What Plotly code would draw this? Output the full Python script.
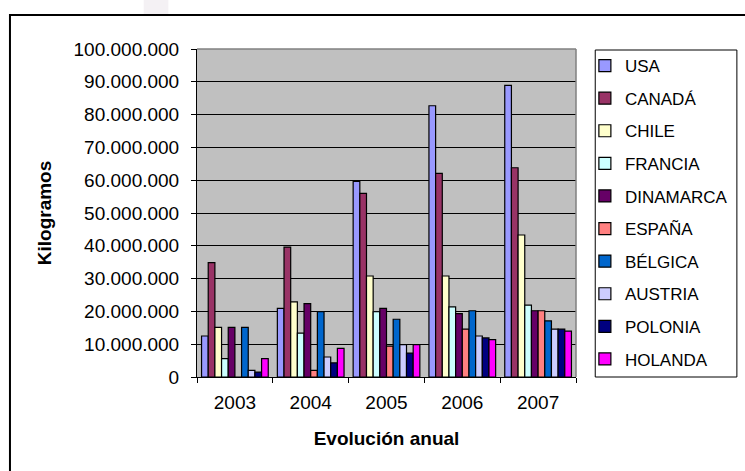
import plotly.graph_objects as go

# Years on the category axis
years = ["2003", "2004", "2005", "2006", "2007"]

# Annual kilograms per destination country
usa       = [12_500_000, 20_900_000, 59_600_000, 82_700_000, 88_900_000]
canada    = [34_900_000, 39_600_000, 56_000_000, 62_100_000, 63_800_000]
chile     = [15_100_000, 22_900_000, 30_800_000, 30_800_000, 43_300_000]
francia   = [5_600_000, 13_400_000, 19_900_000, 21_400_000, 21_900_000]
dinamarca = [15_100_000, 22_400_000, 20_900_000, 19_300_000, 20_200_000]
espana    = [0, 2_000_000, 9_400_000, 14_600_000, 20_200_000]
belgica   = [15_100_000, 19_900_000, 17_600_000, 20_200_000, 17_100_000]
austria   = [2_000_000, 6_100_000, 9_900_000, 12_500_000, 14_600_000]
polonia   = [1_500_000, 4_300_000, 7_300_000, 11_900_000, 14_600_000]
holanda   = [5_600_000, 8_700_000, 9_900_000, 11_400_000, 14_000_000]

country_names = ["USA", "CANADÁ", "CHILE", "FRANCIA", "DINAMARCA",
                 "ESPAÑA", "BÉLGICA", "AUSTRIA", "POLONIA", "HOLANDA"]
country_values = [usa, canada, chile, francia, dinamarca,
                  espana, belgica, austria, polonia, holanda]
country_colors = ["#9999FF", "#993366", "#FFFFCC", "#CCFFFF", "#660066",
                  "#FF8080", "#0066CC", "#CCCCFF", "#000080", "#FF00FF"]

y_ticks = list(range(0, 100_000_001, 10_000_000))

# Page geometry (pixels)
W, H = 745, 471
PL, PR, PT, PB = 197, 581, 49, 377  # plot area edges


def px_x(x):
    return (x - PL) / (PR - PL)


def px_y(y):
    return (PB - y) / (PB - PT)


FONT = "Arial, Liberation Sans, sans-serif"

fig = go.Figure()
for name, vals, col in zip(country_names, country_values, country_colors):
    fig.add_trace(go.Bar(
        name=name, x=years, y=vals, legendgroup=name,
        marker=dict(color=col, line=dict(color="black", width=1.2)),
    ))

shapes = [
    # outer chart frame
    dict(type="rect", xref="paper", yref="paper",
         x0=px_x(7.5), x1=px_x(760), y0=px_y(490), y1=px_y(15),
         line=dict(color="black", width=2), layer="above"),
    # faint block above the frame
    dict(type="rect", xref="paper", yref="paper",
         x0=px_x(143), x1=px_x(168), y0=px_y(14), y1=px_y(0),
         fillcolor="#F4F1F4", line=dict(width=0), layer="above"),
    # legend box
    dict(type="rect", xref="paper", yref="paper",
         x0=px_x(600.5), x1=px_x(744), y0=px_y(377), y1=px_y(50),
         line=dict(color="black", width=1), layer="above"),
    # grey top and right edge of the plot area
    dict(type="line", xref="paper", yref="paper", x0=0, x1=1, y0=1, y1=1,
         line=dict(color="#808080", width=1.5), layer="above"),
    dict(type="line", xref="paper", yref="paper", x0=1, x1=1, y0=0, y1=1,
         line=dict(color="#808080", width=1.5), layer="above"),
]

fig.update_layout(
    width=W, height=H,
    margin=dict(l=PL, r=W - PR, t=PT, b=H - PB, pad=0),
    paper_bgcolor="white",
    plot_bgcolor="#C0C0C0",
    barmode="group",
    bargap=0.12,
    bargroupgap=0,
    separators=",.",
    font=dict(family=FONT, color="black", size=19),
    showlegend=True,
    legend=dict(
        x=px_x(590), y=px_y(48), xanchor="left", yanchor="top",
        bgcolor="rgba(0,0,0,0)", borderwidth=0,
        font=dict(family=FONT, size=17, color="black"),
        tracegroupgap=7.5, traceorder="grouped",
        maxheight=440,
    ),
    shapes=shapes,
    xaxis=dict(
        type="category",
        showline=True, linecolor="black", linewidth=1,
        ticks="outside", tickson="boundaries", ticklen=5,
        tickcolor="black", ticklabelstandoff=8,
        showgrid=False,
        tickfont=dict(size=19),
        title=dict(text="<b>Evolución anual</b>", font=dict(size=19),
                   standoff=19),
    ),
    yaxis=dict(
        range=[0, 100_000_000],
        tickvals=y_ticks, tickformat=",d",
        showline=True, linecolor="black", linewidth=1,
        ticks="outside", ticklen=5, tickcolor="black",
        ticklabelstandoff=8,
        showgrid=True, gridcolor="black", gridwidth=1,
        zeroline=False,
        tickfont=dict(size=19),
        title=dict(text="<b>Kilogramos</b>", font=dict(size=19),
                   standoff=16),
    ),
)

fig.write_html("out.html")
